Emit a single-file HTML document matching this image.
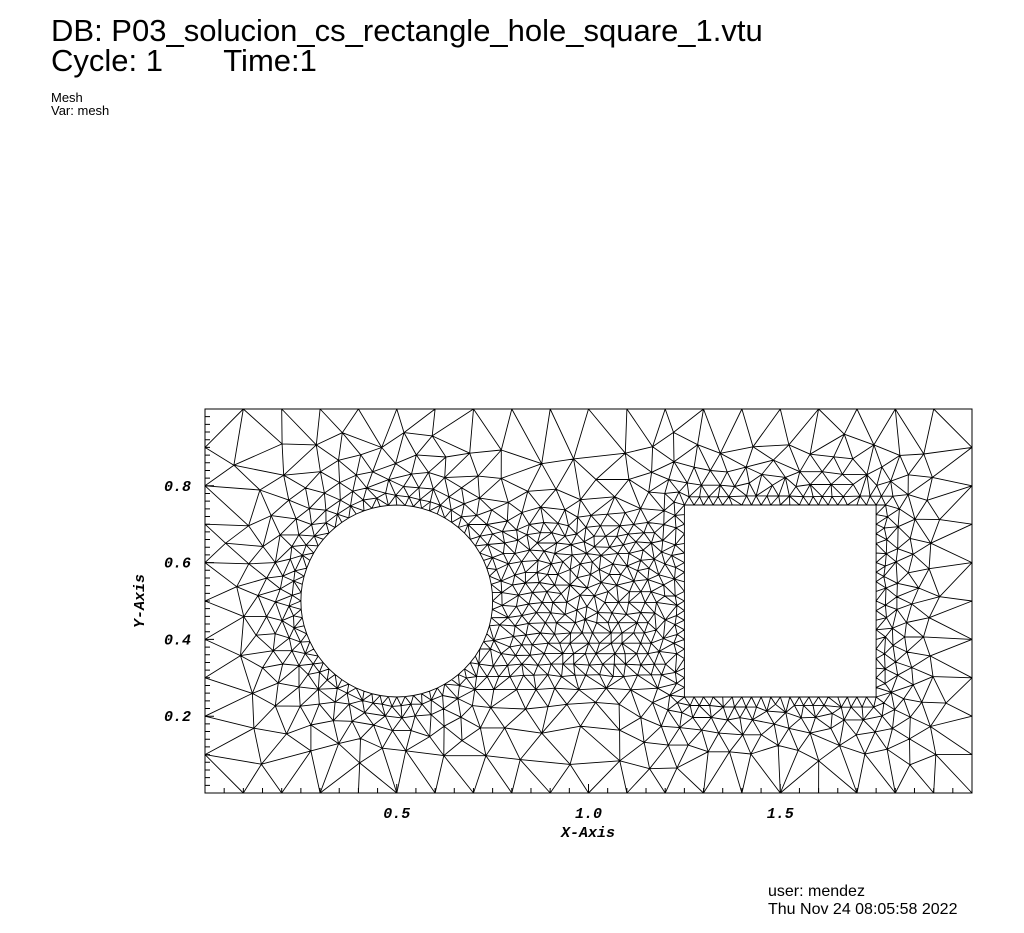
<!DOCTYPE html>
<html><head><meta charset="utf-8">
<style>
body{margin:0;background:#fff;width:1024px;height:933px;overflow:hidden;font-family:"Liberation Sans",sans-serif;}
.t{position:absolute;color:#000;white-space:nowrap;}
</style></head><body>
<div class="t" style="left:51px;top:16px;font-size:31px;line-height:30px;">DB: P03_solucion_cs_rectangle_hole_square_1.vtu</div>
<div class="t" style="left:51px;top:46px;font-size:31px;line-height:30px;">Cycle: 1&nbsp;&nbsp;&nbsp;&nbsp;&nbsp;&nbsp;&nbsp;Time:1</div>
<div class="t" style="left:51px;top:91px;font-size:13px;line-height:13px;">Mesh<br>Var: mesh</div>
<div class="t" style="left:768px;top:883px;font-size:16px;line-height:18px;">user: mendez<br>Thu Nov 24 08:05:58 2022</div>
<svg id="chart" width="1024" height="933" style="position:absolute;left:0;top:0"></svg>
<script>
const xTicks=[0.5,1.0,1.5];
const xTickLabels=["0.5","1.0","1.5"];
const yTicks=[0.2,0.4,0.6,0.8];
const yTickLabels=["0.2","0.4","0.6","0.8"];
const circleHole=[0.5,0.5,0.25];
const squareHole=[1.25,0.25,1.75,0.75];
const domain=[0,0,2,1];
const X0=205,X1=972,Y0=793,Y1=409;
const sx=v=>X0+(v-domain[0])/(domain[2]-domain[0])*(X1-X0);
const sy=v=>Y0-(v-domain[1])/(domain[3]-domain[1])*(Y0-Y1);
const svg=document.getElementById('chart');
const NS='http://www.w3.org/2000/svg';
function dCirc(x,y){return Math.hypot(x-circleHole[0],y-circleHole[1])-circleHole[2];}
function dSq(x,y){const cx=(squareHole[0]+squareHole[2])/2,cy=(squareHole[1]+squareHole[3])/2,hw=(squareHole[2]-squareHole[0])/2;
 const qx=Math.abs(x-cx)-hw,qy=Math.abs(y-cy)-hw;return Math.hypot(Math.max(qx,0),Math.max(qy,0))+Math.min(Math.max(qx,qy),0);}
function h(x,y){const d=Math.max(0,Math.min(dCirc(x,y),dSq(x,y)));
 let v=Math.min(0.1,0.02+0.28*d);
 if(x>0.7&&x<1.3){v=Math.min(v,0.03+0.35*Math.max(0,Math.abs(y-0.5)-0.2));}
 return v;}
const pts=[];
function add(x,y){pts.push([x,y]);}
for(let i=0;i<=20;i++){add(i*0.1,0);add(i*0.1,1);}
for(let i=1;i<10;i++){add(0,i*0.1);add(2,i*0.1);}
const nc=72;for(let i=0;i<nc;i++){const a=2*Math.PI*i/nc;add(circleHole[0]+circleHole[2]*Math.cos(a),circleHole[1]+circleHole[2]*Math.sin(a));}
const ns=20;for(let i=0;i<ns;i++){const t=squareHole[0]+i*(0.5/ns);
 add(t,squareHole[1]);add(squareHole[2],squareHole[1]+i*0.5/ns);add(squareHole[2]-i*0.5/ns,squareHole[3]);add(squareHole[0],squareHole[3]-i*0.5/ns);}
const cand=[];const st=0.009;
for(let j=1;j*st<1-0.01;j++)for(let i=1;i*st<2-0.01;i++){const x=i*st+(j%2?st/2:0)+0.003*Math.sin(i*1.7+j*2.3),y=j*st+0.003*Math.cos(i*2.1+j*1.3);
 if(dCirc(x,y)<0.012||dSq(x,y)<0.012||x>1.99||x<0.01)continue;cand.push([x,y,h(x,y)]);}
cand.sort((a,b)=>a[2]-b[2]);
for(const c of cand){let ok=true;const r=c[2]*0.88;
 for(const p of pts){const dx=p[0]-c[0],dy=p[1]-c[1];if(Math.abs(dx)<r&&Math.abs(dy)<r&&dx*dx+dy*dy<r*r){ok=false;break;}}
 if(ok)pts.push([c[0],c[1]]);}
const P=pts.map(p=>p.slice());P.push([-10,-10],[12,-10],[1,20]);
const n=pts.length;
function cc(a,b,c){const [ax,ay]=P[a],[bx,by]=P[b],[cx,cy]=P[c];const d=2*(ax*(by-cy)+bx*(cy-ay)+cx*(ay-by));
 const ux=((ax*ax+ay*ay)*(by-cy)+(bx*bx+by*by)*(cy-ay)+(cx*cx+cy*cy)*(ay-by))/d;
 const uy=((ax*ax+ay*ay)*(cx-bx)+(bx*bx+by*by)*(ax-cx)+(cx*cx+cy*cy)*(bx-ax))/d;
 return [ux,uy,(ax-ux)**2+(ay-uy)**2];}
let tris=[[n,n+1,n+2,...cc(n,n+1,n+2)]];
for(let i=0;i<n;i++){const [px,py]=P[i];const bad=[],keep=[];
 for(const t of tris){if((px-t[3])**2+(py-t[4])**2<t[5]*(1-1e-12))bad.push(t);else keep.push(t);}
 const em=new Map();
 for(const t of bad){for(const [a,b] of [[t[0],t[1]],[t[1],t[2]],[t[2],t[0]]]){const k=a<b?a+','+b:b+','+a;em.set(k,em.has(k)?null:[a,b]);}}
 for(const e of em.values()){if(e)keep.push([e[0],e[1],i,...cc(e[0],e[1],i)]);}
 tris=keep;}
let d='';const seen=new Set();
for(const t of tris){if(t[0]>=n||t[1]>=n||t[2]>=n)continue;
 const gx=(P[t[0]][0]+P[t[1]][0]+P[t[2]][0])/3,gy=(P[t[0]][1]+P[t[1]][1]+P[t[2]][1])/3;
 if(dCirc(gx,gy)<0||dSq(gx,gy)<0)continue;
 for(const [a,b] of [[t[0],t[1]],[t[1],t[2]],[t[2],t[0]]]){const k=a<b?a+','+b:b+','+a;if(seen.has(k))continue;seen.add(k);
  d+='M'+sx(P[a][0]).toFixed(1)+' '+sy(P[a][1]).toFixed(1)+'L'+sx(P[b][0]).toFixed(1)+' '+sy(P[b][1]).toFixed(1);}}
const mesh=document.createElementNS(NS,'path');


mesh.setAttribute('d',d);mesh.setAttribute('stroke','#000');mesh.setAttribute('stroke-width','0.9');mesh.setAttribute('fill','none');
svg.appendChild(mesh);
const frame=document.createElementNS(NS,'rect');


frame.setAttribute('x',X0);frame.setAttribute('y',Y1);frame.setAttribute('width',X1-X0);frame.setAttribute('height',Y0-Y1);
frame.setAttribute('fill','none');frame.setAttribute('stroke','#000');frame.setAttribute('stroke-width','1');
svg.appendChild(frame);
let td='';
for(let i=1;i<40;i++){const v=i*0.05;const L=(Math.abs(v*2-Math.round(v*2))<1e-6)?9:5;td+='M'+sx(v)+' '+Y0+'V'+(Y0-L);}
for(let i=1;i<50;i++){const v=i*0.02;const L=(Math.abs(v*5-Math.round(v*5))<1e-6)?9:5;td+='M'+X0+' '+sy(v)+'H'+(X0+L);}
const ticks=document.createElementNS(NS,'path');


ticks.setAttribute('d',td);ticks.setAttribute('stroke','#000');ticks.setAttribute('stroke-width','1');
svg.appendChild(ticks);
function txt(x,y,s,name,anchor,rot){const t=document.createElementNS(NS,'text');
 
 
 t.setAttribute('x',x);t.setAttribute('y',y);t.setAttribute('text-anchor',anchor);
 t.setAttribute('font-family','Liberation Mono, monospace');t.setAttribute('font-weight','bold');t.setAttribute('font-style','italic');t.setAttribute('font-size','15');
 if(rot)t.setAttribute('transform','rotate(-90 '+x+' '+y+')');t.textContent=s;svg.appendChild(t);}
xTicks.forEach((v,i)=>txt(sx(v),818,xTickLabels[i],'x-tick-label','middle'));
yTicks.forEach((v,i)=>txt(191,sy(v)+5,yTickLabels[i],'y-tick-label','end'));
txt(588,837,'X-Axis','x-axis-title','middle');
txt(144,601,'Y-Axis','y-axis-title','middle',true);
</script>
</body></html>
